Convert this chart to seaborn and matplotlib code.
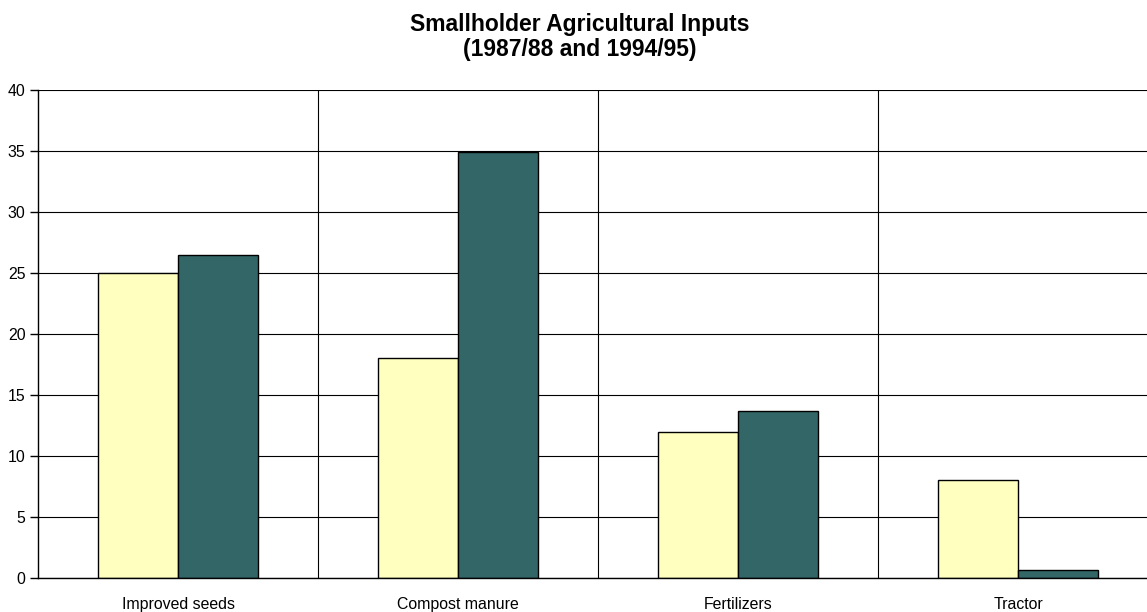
import matplotlib
matplotlib.use("Agg")
import matplotlib.pyplot as plt
import seaborn as sns
import pandas as pd

# Share of smallholders using each input, by survey year
categories = ["Improved seeds", "Compost manure", "Fertilizers", "Tractor"]
years = ["1987/88", "1994/95"]
values_1987 = [25.0, 18.0, 12.0, 8.0]
values_1994 = [26.5, 34.9, 13.7, 0.65]
yticks = [0, 5, 10, 15, 20, 25, 30, 35, 40]

df = pd.DataFrame({
    "Input": categories * 2,
    "Year": [years[0]] * len(categories) + [years[1]] * len(categories),
    "Value": values_1987 + values_1994,
})

sns.set_theme(style="white")
plt.rcParams["font.family"] = ["Liberation Sans", "DejaVu Sans"]

W, H = 1147, 612
fig = plt.figure(figsize=(W / 100, H / 100), dpi=100)
left, right, top, bottom = 38, 1158, 90, 578
ax = fig.add_axes([left / W, 1 - bottom / H, (right - left) / W, (bottom - top) / H])

ax.set_axisbelow(True)
sns.barplot(
    data=df, x="Input", y="Value", hue="Year",
    palette=["#FFFFC0", "#336666"], saturation=1, width=0.571, gap=0,
    edgecolor="black", linewidth=1.0, legend=False, ax=ax,
)

ax.set_xlim(-0.5, len(categories) - 0.5)
ax.set_ylim(0, 40)
ax.set_yticks(yticks)
ax.set_yticklabels([str(t) for t in yticks], fontsize=11.4, color="black")
ax.set_xlabel("")
ax.set_ylabel("")

# Category labels centred on groups, tick marks and grid on the group boundaries
ax.set_xticks(range(len(categories)))
ax.set_xticklabels(categories, fontsize=11.4, color="black")
ax.tick_params(axis="x", which="major", length=0, pad=14)
ax.set_xticks([i + 0.5 for i in range(len(categories) - 1)], minor=True)
ax.tick_params(axis="x", which="minor", length=6, width=1, color="black", direction="out")
ax.tick_params(axis="y", which="major", length=6, width=1, color="black", direction="out", pad=3, left=True)

ax.yaxis.grid(True, color="black", linewidth=0.8)
ax.xaxis.grid(True, which="minor", color="black", linewidth=0.8)
ax.xaxis.grid(False, which="major")

for side in ["top", "right"]:
    ax.spines[side].set_visible(False)
for side in ["left", "bottom"]:
    ax.spines[side].set_visible(True)
    ax.spines[side].set_color("black")
    ax.spines[side].set_linewidth(1.0)

fig.text(580 / W, 1 - 37 / H, "Smallholder Agricultural Inputs\n(1987/88 and 1994/95)",
         ha="center", va="center", fontsize=16.5, fontweight="bold",
         linespacing=1.15, color="black")

fig.savefig("out.png", dpi=100, facecolor="white")
